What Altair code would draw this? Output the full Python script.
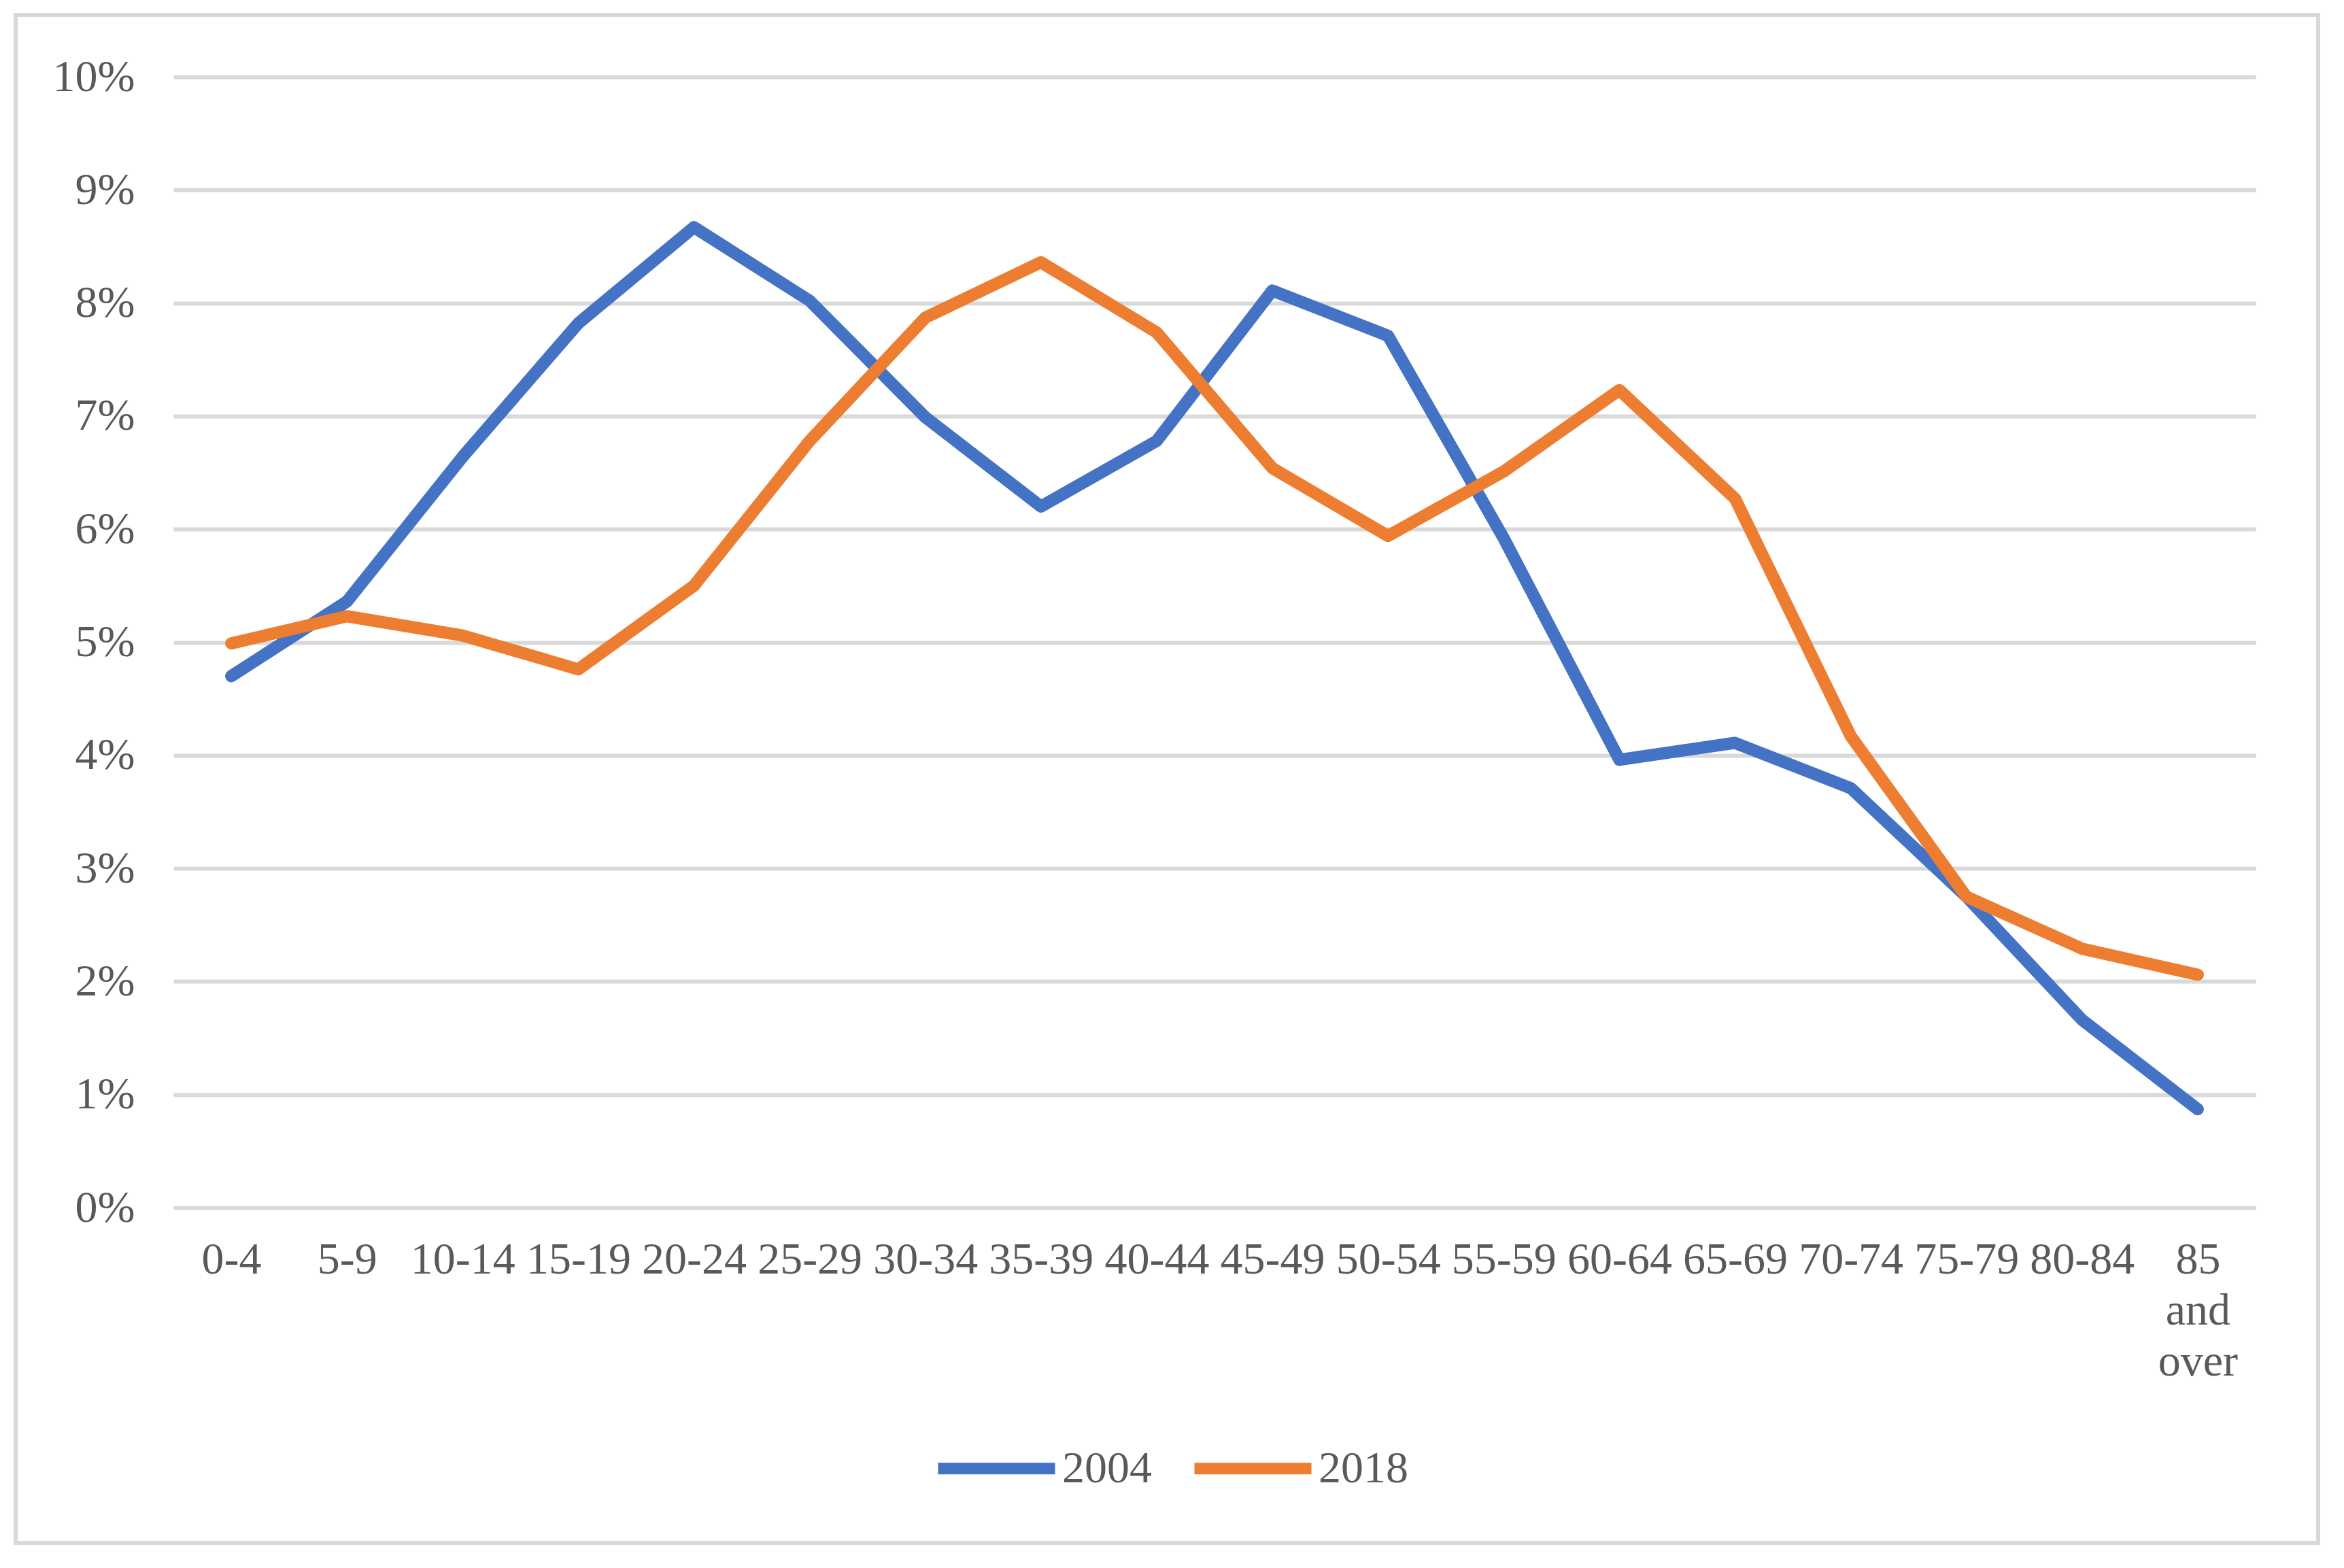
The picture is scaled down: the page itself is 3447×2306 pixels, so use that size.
import altair as alt
import pandas as pd

age_groups = ["0-4", "5-9", "10-14", "15-19", "20-24", "25-29", "30-34", "35-39",
              "40-44", "45-49", "50-54", "55-59", "60-64", "65-69", "70-74",
              "75-79", "80-84", "85 and over"]
share_2004 = [4.70, 5.36, 6.64, 7.82, 8.67, 8.02, 6.99, 6.20, 6.78, 8.11, 7.71,
              5.92, 3.96, 4.11, 3.71, 2.75, 1.66, 0.87]
share_2018 = [4.99, 5.23, 5.06, 4.76, 5.50, 6.78, 7.87, 8.36, 7.74, 6.54, 5.94,
              6.51, 7.23, 6.27, 4.17, 2.75, 2.29, 2.06]
series = ["2004", "2018"]
colors = ["#4472C4", "#ED7D31"]
y_ticks = list(range(0, 11))

rows = []
for i, g in enumerate(age_groups):
    rows.append({"age": g, "year": "2004", "share": share_2004[i], "order": i})
    rows.append({"age": g, "year": "2018", "share": share_2018[i], "order": i})
df = pd.DataFrame(rows)

FONT = "Liberation Serif"
TXT = "#595959"
GRID = "#D9D9D9"

lines = alt.Chart(df).mark_line(strokeWidth=18, strokeCap="round", strokeJoin="round").encode(
    x=alt.X("age:N", sort=age_groups, title=None,
            scale=alt.Scale(padding=0.5),
            axis=alt.Axis(labelAngle=0, labelFont=FONT, labelFontSize=66, labelColor=TXT,
                          labelPadding=44, ticks=False, tickSize=0, domain=False, grid=False,
                          labelBaseline="top", labelLineHeight=75,
                          labelExpr="datum.value == '85 and over' ? ['85', 'and', 'over'] : datum.value")),
    y=alt.Y("share:Q", title=None, scale=alt.Scale(domain=[0, 10], nice=False),
            axis=alt.Axis(values=y_ticks, labelExpr="datum.value + '%'", labelFont=FONT,
                          labelFontSize=66, labelColor=TXT, labelPadding=57, ticks=False,
                          tickSize=0, domain=False, grid=True, gridColor=GRID, gridWidth=6)),
    color=alt.Color("year:N", scale=alt.Scale(domain=series, range=colors),
                    legend=alt.Legend(title=None, orient="none", direction="horizontal",
                                      legendX=1116, legendY=1952, symbolType="stroke",
                                      symbolSize=29584, symbolStrokeWidth=17,
                                      labelFont=FONT, labelFontSize=66, labelColor=TXT,
                                      labelOffset=2, columnPadding=28, padding=0)),
    order="order:Q",
)

frame = alt.Chart(alt.Data(values=[{"a": 1}])).mark_rect(
    fill="transparent", stroke=GRID, strokeWidth=6
).encode(
    x=alt.value(-232), x2=alt.value(3154), y=alt.value(-91), y2=alt.value(2156)
)

chart = alt.layer(frame, lines).properties(
    width=3062, height=1663,
    autosize=alt.AutoSizeParams(type="none"),
    padding={"left": 247, "top": 105, "right": 120, "bottom": 515},
    background="white",
).configure_view(stroke=None)

chart.save("out.html", embed_options={"renderer": "svg", "actions": False})
